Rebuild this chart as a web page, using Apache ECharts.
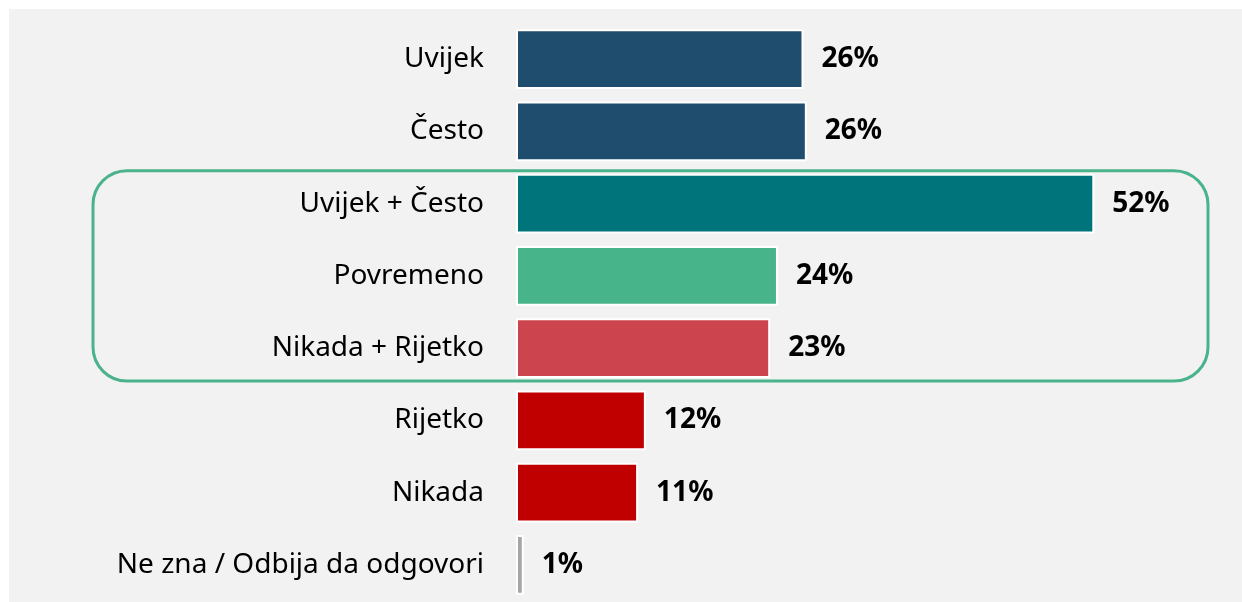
<!DOCTYPE html>
<html>
<head>
<meta charset="utf-8">
<script src="https://cdn.jsdelivr.net/npm/echarts@6/dist/echarts.min.js"></script>
<style>
  html, body { margin: 0; padding: 0; background: #ffffff; }
  #chart { width: 1242px; height: 602px; }
</style>
</head>
<body>
<div id="chart"></div>
<script>
// categories, top to bottom
const categories = ['Uvijek', 'Često', 'Uvijek + Često', 'Povremeno', 'Nikada + Rijetko', 'Rijetko', 'Nikada', 'Ne zna / Odbija da odgovori'];
// shares in percent
const values = [25.9, 26.2, 52.1, 23.6, 22.9, 11.7, 11.0, 0.7];
const barColors = ['#1f4d6e', '#1f4d6e', '#00747b', '#47b48a', '#cc454e', '#c00000', '#c00000', '#a6a6a6'];
// rows inside the green frame
const framedRows = [2, 4];

const chart = echarts.init(document.getElementById('chart'));

const gridTop = 23;
const gridHeight = 578;
const bandGap = 0.17;

const option = {
    animation: false,
    grid: {
        left: 516,
        top: gridTop,
        width: 666,
        height: gridHeight,
    },
    xAxis: {
        type: 'value',
        min: 0,
        max: 60,
        show: false,
    },
    yAxis: {
        type: 'category',
        inverse: true,
        data: categories,
        axisLine: { show: false },
        axisTick: { show: false },
        axisLabel: {
            margin: 32,
            color: '#000000',
            fontFamily: 'Noto Sans',
            fontSize: 28,
            padding: [4, 0, 0, 0],
        },
    },
    series: [
        {
            type: 'bar',
            barCategoryGap: (bandGap * 100) + '%',
            data: values.map((v, i) => ({
                value: v,
                itemStyle: { color: barColors[i] },
            })),
            itemStyle: {
                borderColor: '#ffffff',
                borderWidth: 2,
            },
            label: {
                show: true,
                position: 'right',
                distance: 18,
                color: '#000000',
                fontFamily: 'Noto Sans',
                fontWeight: 'bold',
                fontSize: 28,
                padding: [4, 0, 0, 0],
                formatter: p => Math.round(p.value) + '%',
            },
        },
    ],
};

chart.setOption(option);

// background panel and rounded frame round the summary rows
const topY = chart.convertToPixel({ yAxisIndex: 0 }, framedRows[0]);
const botY = chart.convertToPixel({ yAxisIndex: 0 }, framedRows[1]);
const band = gridHeight / categories.length;
const barHalf = band * (1 - bandGap) / 2;
chart.setOption({
    graphic: [
        {
            type: 'rect',
            z: -10,
            shape: { x: 9, y: 9, width: 1233, height: 593 },
            style: { fill: '#f2f2f2' },
        },
        {
            type: 'rect',
            z: -5,
            shape: { x: 93, y: topY - barHalf - 3, width: 1115, height: botY - topY + 2 * barHalf + 6, r: 34 },
            style: { fill: 'none', stroke: '#4bb38b', lineWidth: 3 },
        },
    ],
});
</script>
</body>
</html>
